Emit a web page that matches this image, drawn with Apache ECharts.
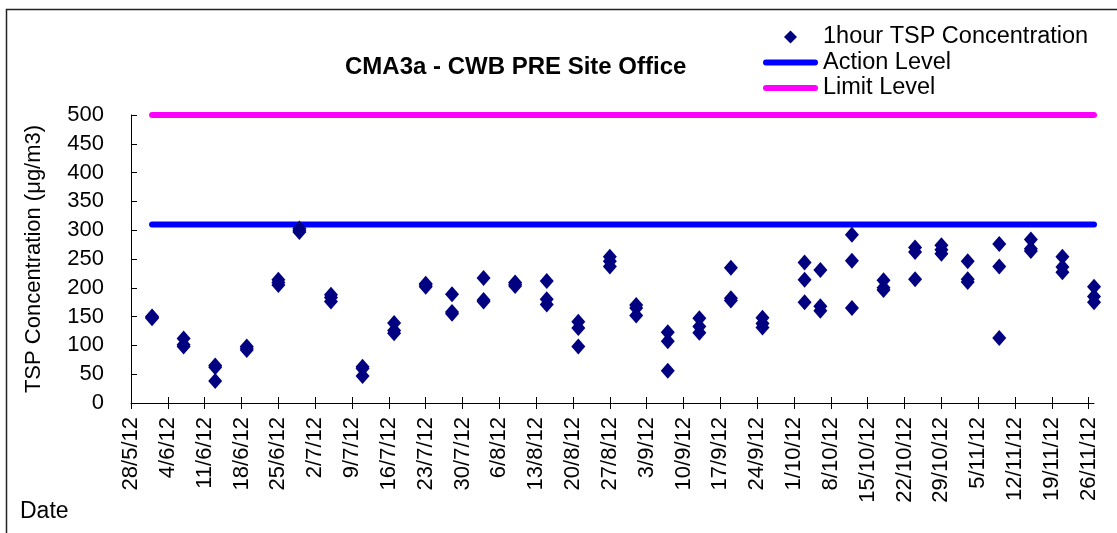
<!DOCTYPE html>
<html>
<head>
<meta charset="utf-8">
<title>CMA3a - CWB PRE Site Office</title>
<script src="https://cdn.jsdelivr.net/npm/echarts@6/dist/echarts.min.js"></script>
<style>
  html, body { margin: 0; padding: 0; background: #fff; }
  #tspChart { width: 1117px; height: 533px; }
</style>
</head>
<body>
<div id="tspChart"></div>
<script>
// axis range (dates)
const startDate = '2012-05-28'
const endDate = '2012-11-27'

// weekly tick labels, starting at startDate
const tickLabels = [
  '28/5/12', '4/6/12', '11/6/12', '18/6/12', '25/6/12', '2/7/12', '9/7/12',
  '16/7/12', '23/7/12', '30/7/12', '6/8/12', '13/8/12', '20/8/12', '27/8/12',
  '3/9/12', '10/9/12', '17/9/12', '24/9/12', '1/10/12', '8/10/12', '15/10/12',
  '22/10/12', '29/10/12', '5/11/12', '12/11/12', '19/11/12', '26/11/12'
]

// sampling days, three 1-hour results per day
const sampleDates = [
  '2012-06-01', '2012-06-07', '2012-06-13', '2012-06-19', '2012-06-25', '2012-06-29',
  '2012-07-05', '2012-07-11', '2012-07-17', '2012-07-23', '2012-07-28', '2012-08-03',
  '2012-08-09', '2012-08-15', '2012-08-21', '2012-08-27', '2012-09-01', '2012-09-07',
  '2012-09-13', '2012-09-19', '2012-09-25', '2012-10-03', '2012-10-06', '2012-10-12',
  '2012-10-18', '2012-10-24', '2012-10-29', '2012-11-03', '2012-11-09', '2012-11-15',
  '2012-11-21', '2012-11-27'
]
const tspRun1 = [150, 112, 65, 98, 214, 303, 188, 63, 139, 205, 189, 217,
  209, 212, 141, 254, 170, 123, 147, 235, 148, 244, 231, 292,
  213, 270, 274, 246, 276, 284, 254, 202]
const tspRun2 = [147, 101, 62, 95, 209, 300, 183, 60, 126, 207, 158, 179,
  206, 180, 130, 246, 165, 107, 133, 182, 138, 214, 168, 247,
  200, 262, 266, 215, 237, 268, 236, 185]
const tspRun3 = [149, 98, 38, 92, 205, 297, 176, 47, 121, 202, 155, 176,
  203, 171, 98, 237, 152, 56, 122, 178, 131, 175, 160, 165,
  196, 215, 259, 210, 113, 264, 227, 175]

const actionLevel = 310
const limitLevel = 500
const levelDates = ['2012-06-01', '2012-11-27']

const fontFamily = '"Liberation Sans", Arial, sans-serif'

function dayOf(s) {
  const p = s.split('-').map(Number)
  const b = startDate.split('-').map(Number)
  return (Date.UTC(p[0], p[1] - 1, p[2]) - Date.UTC(b[0], b[1] - 1, b[2])) / 86400000
}

const tickValues = tickLabels.map((l, i) => i * 7)
const tspPoints = []
sampleDates.forEach((d, i) => {
  const x = dayOf(d)
  tspPoints.push([x, tspRun1[i]], [x, tspRun2[i]], [x, tspRun3[i]])
})
const levelLine = v => levelDates.map(d => [dayOf(d), v])

const myChart = echarts.init(document.getElementById('tspChart'))
myChart.setOption({
  animation: false,
  textStyle: { fontFamily: fontFamily },
  title: {
    text: 'CMA3a - CWB PRE Site Office',
    left: 345,
    top: 55,
    padding: 0,
    textStyle: { fontSize: 24, fontWeight: 'bold', color: '#000', fontFamily: fontFamily }
  },
  legend: {
    orient: 'vertical',
    left: 763,
    top: 25,
    padding: 0,
    itemWidth: 55,
    itemHeight: 13,
    itemGap: 1.5,
    textStyle: { fontSize: 23.5, lineHeight: 23, color: '#000', fontFamily: fontFamily },
    data: [
      { name: '1hour TSP Concentration', icon: 'path://M0,-1L1,0L0,1L-1,0Z' },
      { name: 'Action Level', icon: 'path://M3,0H52A3,3,0,0,1,52,6H3A3,3,0,0,1,3,0Z' },
      { name: 'Limit Level', icon: 'path://M3,0H52A3,3,0,0,1,52,6H3A3,3,0,0,1,3,0Z' }
    ]
  },
  grid: { left: 131, right: 23, top: 115, bottom: 130 },
  xAxis: [
    {
      type: 'value',
      min: 0,
      max: dayOf(endDate),
      axisLine: { show: true, lineStyle: { color: '#000', width: 1 } },
      axisTick: { show: true, inside: false, length: 6, customValues: tickValues, lineStyle: { color: '#000' } },
      axisLabel: {
        customValues: tickValues,
        rotate: 90,
        margin: 14,
        fontSize: 22,
        color: '#000',
        fontFamily: fontFamily,
        formatter: v => tickLabels[Math.round(v / 7)] || ''
      },
      splitLine: { show: false }
    },
    {
      // inner half of the crossing ticks
      type: 'value',
      position: 'bottom',
      min: 0,
      max: dayOf(endDate),
      axisLine: { show: false },
      axisTick: { show: true, inside: true, length: 6, customValues: tickValues, lineStyle: { color: '#000' } },
      axisLabel: { show: false },
      splitLine: { show: false }
    }
  ],
  yAxis: {
    type: 'value',
    min: 0,
    max: 500,
    interval: 50,
    name: 'TSP Concentration (μg/m3)',
    nameLocation: 'middle',
    nameGap: 86,
    nameTextStyle: { fontSize: 22, color: '#000', fontFamily: fontFamily },
    axisLine: { show: true, lineStyle: { color: '#000', width: 1 } },
    axisTick: { show: true, inside: true, length: 6, lineStyle: { color: '#000' } },
    axisLabel: { margin: 27, fontSize: 22, color: '#000', fontFamily: fontFamily },
    splitLine: { show: false }
  },
  series: [
    {
      name: 'Action Level',
      type: 'line',
      data: levelLine(actionLevel),
      symbol: 'none',
      clip: false,
      color: '#0000FF',
      lineStyle: { color: '#0000FF', width: 6, cap: 'round' }
    },
    {
      name: 'Limit Level',
      type: 'line',
      data: levelLine(limitLevel),
      symbol: 'none',
      clip: false,
      color: '#FF00FF',
      lineStyle: { color: '#FF00FF', width: 6, cap: 'round' }
    },
    {
      name: '1hour TSP Concentration',
      type: 'scatter',
      data: tspPoints,
      symbol: 'diamond',
      symbolSize: [14, 16],
      itemStyle: { color: '#000080', opacity: 1 },
      z: 3
    }
  ],
  graphic: [
    {
      type: 'rect',
      shape: { x: 6.5, y: 9.5, width: 1200, height: 600 },
      style: { fill: 'none', stroke: '#222', lineWidth: 1.5 },
      silent: true
    },
    {
      type: 'text',
      left: 20,
      top: 500,
      style: { text: 'Date', fontSize: 23, fill: '#000', fontFamily: fontFamily }
    }
  ]
})
</script>
</body>
</html>
